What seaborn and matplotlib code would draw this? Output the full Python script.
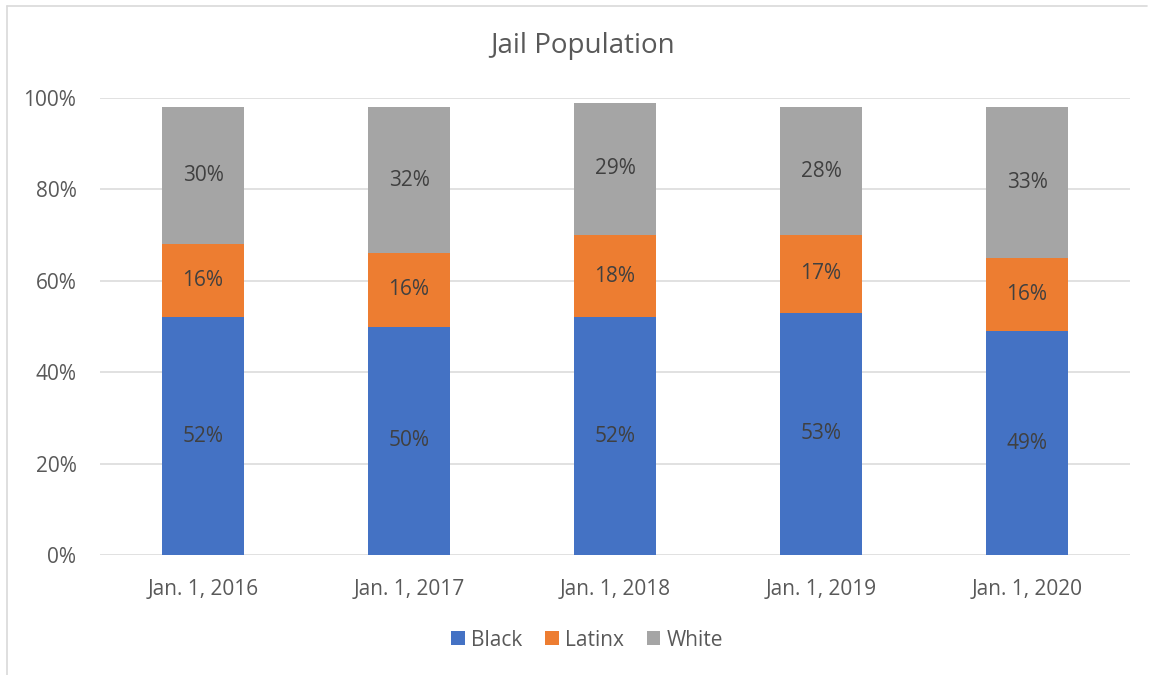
import matplotlib
matplotlib.use("Agg")
import matplotlib.pyplot as plt
import matplotlib.lines as mlines
from matplotlib.patches import Patch
import numpy as np
import pandas as pd
import seaborn as sns

# Jail population share by race/ethnicity
dates = ["Jan. 1, 2016", "Jan. 1, 2017", "Jan. 1, 2018", "Jan. 1, 2019", "Jan. 1, 2020"]
black = [52, 50, 52, 53, 49]
latinx = [16, 16, 18, 17, 16]
white = [30, 32, 29, 28, 33]

groups = ["Black", "Latinx", "White"]
colors = {"Black": "#4472C4", "Latinx": "#ED7D31", "White": "#A5A5A5"}
text_color = "#595959"
label_color = "#404040"

sns.set_theme(style="white")
plt.rcParams["font.family"] = ["Open Sans", "DejaVu Sans"]

df = pd.DataFrame({"date": dates, "Black": black, "Latinx": latinx, "White": white})
df[groups] = df[groups] / 100.0
cum = df[groups].cumsum(axis=1)

fig = plt.figure(figsize=(11.51, 6.75), dpi=100)
ax = fig.add_axes([100 / 1151, 1 - 555 / 675, 1030 / 1151, (555 - 98) / 675])

# Draw stacked bars top-down so lower segments overlay the cumulative totals
for g in reversed(groups):
    sns.barplot(x=df["date"], y=cum[g], color=colors[g], width=0.4,
                saturation=1, ax=ax, zorder=3, linewidth=0)

# Segment value labels
x = np.arange(len(dates))
prev = np.zeros(len(dates))
for g in groups:
    vals = df[g].values
    mids = prev + vals / 2
    for xi, m, v in zip(x, mids, vals):
        ax.text(xi, m, f"{round(v * 100):d}%", ha="center", va="center",
                fontsize=15, color=label_color, zorder=4)
    prev = prev + vals

ax.set_ylim(0, 1)
ax.set_xlim(-0.5, len(dates) - 0.5)
ax.set_yticks(np.arange(0, 1.01, 0.2))
ax.set_yticklabels([f"{int(t * 100)}%" for t in np.arange(0, 1.01, 0.2)])
ax.yaxis.grid(True, color="#D9D9D9", linewidth=1.1, zorder=0)
ax.set_axisbelow(True)
for s in ax.spines.values():
    s.set_visible(False)
ax.tick_params(axis="both", length=0, labelsize=15, colors=text_color)
ax.tick_params(axis="y", pad=17)
ax.tick_params(axis="x", pad=17)
ax.set_xlabel("")
ax.set_ylabel("")

fig.text(583 / 1151, 1 - 46 / 675, "Jail Population", ha="center", va="center",
         fontsize=20, color=text_color)

handles = [Patch(facecolor=colors[g], edgecolor="none", label=g) for g in groups]
fig.legend(handles=handles, loc="center", bbox_to_anchor=(587 / 1151, 1 - 640 / 675),
           ncol=3, frameon=False, fontsize=15, handlelength=0.65, handleheight=0.65,
           handletextpad=0.3, columnspacing=1.1, labelcolor=text_color)

# Chart-area frame (left and top edges)
fig.add_artist(mlines.Line2D([7 / 1151, 7 / 1151], [0, 1 - 6 / 675],
                             transform=fig.transFigure, color="#D9D9D9", linewidth=1.2))
fig.add_artist(mlines.Line2D([7 / 1151, 1147 / 1151], [1 - 6 / 675, 1 - 6 / 675],
                             transform=fig.transFigure, color="#D9D9D9", linewidth=1.2))

fig.savefig("out.png", dpi=100, facecolor="white")
